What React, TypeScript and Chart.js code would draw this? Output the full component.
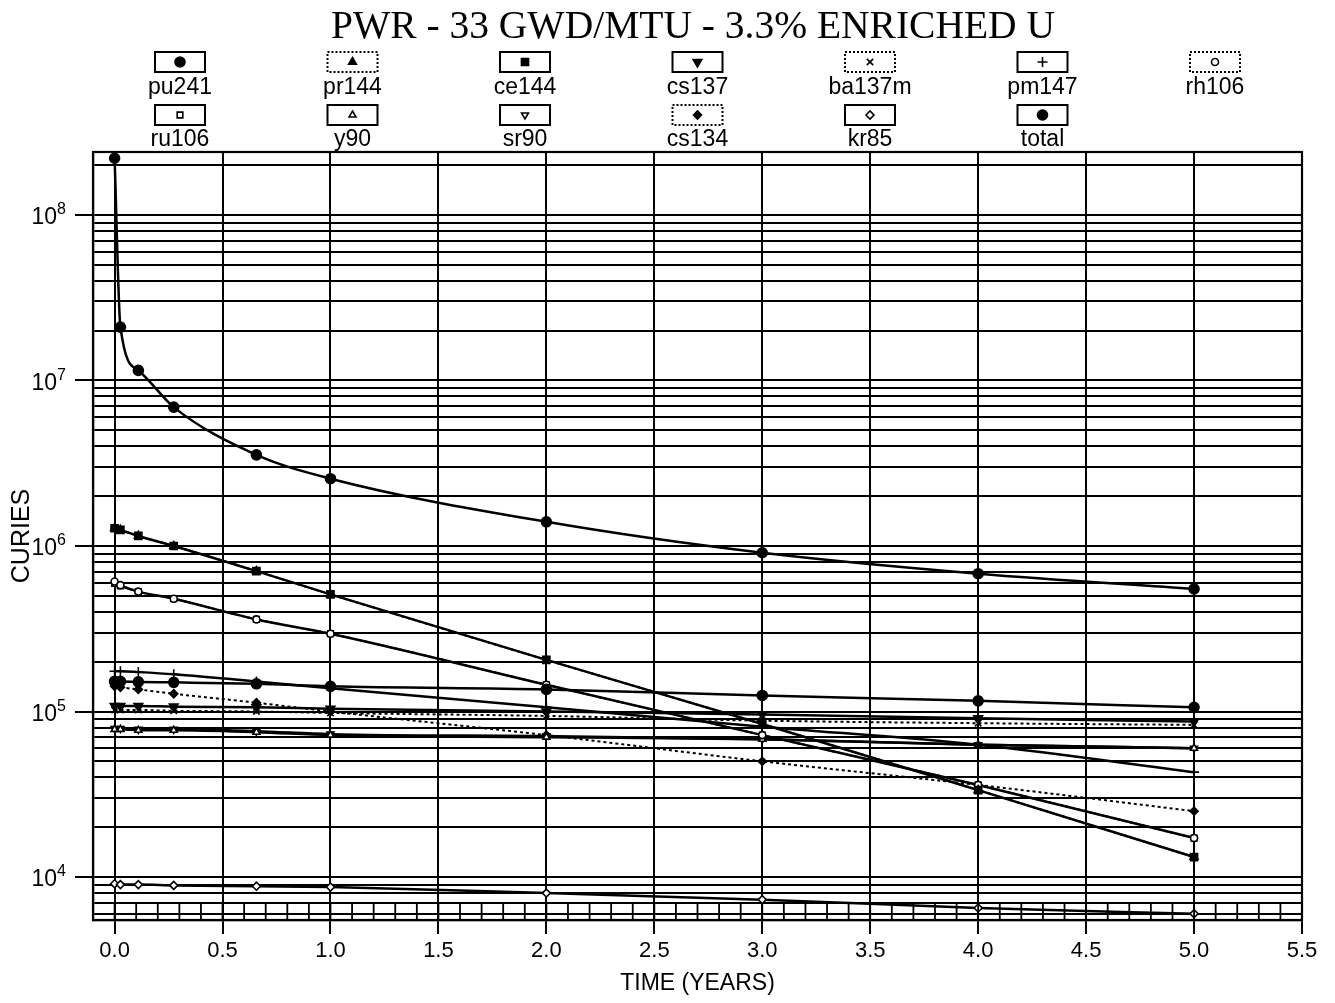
import React, { useEffect, useRef } from 'react';
import { Chart, registerables } from 'chart.js';
import { drawPoint } from 'chart.js/helpers';

Chart.register(...registerables);

const TITLE = 'PWR - 33 GWD/MTU - 3.3% ENRICHED U';
const X_TITLE = 'TIME (YEARS)';
const Y_TITLE = 'CURIES';

// time points (years)
const times = [0, 0.027, 0.11, 0.274, 0.657, 1, 2, 3, 4, 5];

// activities (curies)
const pu241 = [1.52e5, 1.52e5, 1.51e5, 1.5e5, 1.47e5, 1.42e5, 1.36e5, 1.25e5, 1.16e5, 1.06e5];
const pr144 = [1.28e6, 1.25e6, 1.15e6, 1.0e6, 7.05e5, 5.1e5, 2.05e5, 8.4e4, 3.35e4, 1.32e4];
const ce144 = [1.28e6, 1.25e6, 1.15e6, 1.0e6, 7.05e5, 5.1e5, 2.05e5, 8.4e4, 3.35e4, 1.32e4];
const cs137 = [1.08e5, 1.08e5, 1.08e5, 1.07e5, 1.06e5, 1.04e5, 1.0e5, 9.6e4, 9.1e4, 8.7e4];
const ba137m = [1.02e5, 1.02e5, 1.02e5, 1.01e5, 1.0e5, 9.8e4, 9.4e4, 8.8e4, 8.5e4, 8.3e4];
const pm147 = [1.75e5, 1.75e5, 1.73e5, 1.68e5, 1.52e5, 1.38e5, 1.06e5, 8.1e4, 6.3e4, 4.3e4];
const rh106 = [6.1e5, 5.8e5, 5.3e5, 4.8e5, 3.6e5, 2.95e5, 1.45e5, 7.2e4, 3.6e4, 1.72e4];
const ru106 = [5.95e5, 5.75e5, 5.3e5, 4.8e5, 3.6e5, 2.95e5, 1.45e5, 7.2e4, 3.6e4, 1.72e4];
const y90 = [7.8e4, 7.8e4, 7.7e4, 7.7e4, 7.5e4, 7.2e4, 7.0e4, 6.8e4, 6.3e4, 6.0e4];
const sr90 = [7.9e4, 7.9e4, 7.8e4, 7.8e4, 7.6e4, 7.3e4, 7.1e4, 6.8e4, 6.3e4, 6.0e4];
const cs134 = [1.42e5, 1.4e5, 1.36e5, 1.28e5, 1.13e5, 1.0e5, 7.2e4, 5.0e4, 3.6e4, 2.5e4];
const kr85 = [9.1e3, 9.0e3, 9.0e3, 8.9e3, 8.8e3, 8.7e3, 8.0e3, 7.3e3, 6.5e3, 6.0e3];
const total = [2.2e8, 2.1e7, 1.15e7, 6.9e6, 3.55e6, 2.55e6, 1.4e6, 9.1e5, 6.8e5, 5.5e5];

// axis ticks
const xTickValues = [0, 0.5, 1, 1.5, 2, 2.5, 3, 3.5, 4, 4.5, 5, 5.5];
const yDecades = [1e3, 1e4, 1e5, 1e6, 1e7, 1e8];
const yDecadeExponents = ['3', '4', '5', '6', '7', '8'];
const Y_MIN = 5.5e3;
const Y_MAX = 2.4e8;
const X_MIN = -0.1;
const X_MAX = 5.5;

type Series = {
  label: string;
  data: number[];
  style: string;
  filled: boolean;
  rotation: number;
  dotted: boolean;
  radius: number;
  row: number;
  col: number;
};

const series: Series[] = [
  { label: 'pu241', data: pu241, style: 'circle', filled: true, rotation: 0, dotted: false, radius: 5, row: 0, col: 0 },
  { label: 'pr144', data: pr144, style: 'triangle', filled: true, rotation: 0, dotted: true, radius: 4.5, row: 0, col: 1 },
  { label: 'ce144', data: ce144, style: 'rect', filled: true, rotation: 0, dotted: false, radius: 5, row: 0, col: 2 },
  { label: 'cs137', data: cs137, style: 'triangle', filled: true, rotation: 180, dotted: false, radius: 5, row: 0, col: 3 },
  { label: 'ba137m', data: ba137m, style: 'crossRot', filled: false, rotation: 0, dotted: true, radius: 4.5, row: 0, col: 4 },
  { label: 'pm147', data: pm147, style: 'cross', filled: false, rotation: 0, dotted: false, radius: 5, row: 0, col: 5 },
  { label: 'rh106', data: rh106, style: 'circle', filled: false, rotation: 0, dotted: true, radius: 3.5, row: 0, col: 6 },
  { label: 'ru106', data: ru106, style: 'rect', filled: false, rotation: 0, dotted: false, radius: 4, row: 1, col: 0 },
  { label: 'y90', data: y90, style: 'triangle', filled: false, rotation: 0, dotted: false, radius: 4, row: 1, col: 1 },
  { label: 'sr90', data: sr90, style: 'triangle', filled: false, rotation: 180, dotted: false, radius: 4, row: 1, col: 2 },
  { label: 'cs134', data: cs134, style: 'rectRot', filled: true, rotation: 0, dotted: true, radius: 4, row: 1, col: 3 },
  { label: 'kr85', data: kr85, style: 'rectRot', filled: false, rotation: 0, dotted: false, radius: 4, row: 1, col: 4 },
  { label: 'total', data: total, style: 'circle', filled: true, rotation: 0, dotted: false, radius: 5, row: 1, col: 5 },
];

const SANS = '"Liberation Sans", Arial, sans-serif';

const decorPlugin = {
  id: 'decor',
  afterDraw(chart: any) {
    const { ctx, chartArea, scales } = chart;
    const xs = scales.x;
    const ys = scales.y;
    ctx.save();
    ctx.strokeStyle = '#000';
    ctx.fillStyle = '#000';
    // frame
    ctx.lineWidth = 2.2;
    ctx.strokeRect(chartArea.left, chartArea.top, chartArea.right - chartArea.left, chartArea.bottom - chartArea.top);
    // inner minor x ticks every 0.1
    ctx.lineWidth = 1.8;
    for (let i = 0; i <= 55; i++) {
      const px = xs.getPixelForValue(i / 10);
      if (px < chartArea.left || px > chartArea.right) continue;
      ctx.beginPath();
      ctx.moveTo(px, chartArea.bottom);
      ctx.lineTo(px, chartArea.bottom - 17);
      ctx.stroke();
    }
    // y decade labels with superscript exponent
    const labelRight = 66;
    yDecades.forEach((d, i) => {
      if (d < Y_MIN || d > Y_MAX) return;
      const py = ys.getPixelForValue(d);
      ctx.font = `16px ${SANS}`;
      const exp = yDecadeExponents[i];
      const ew = ctx.measureText(exp).width;
      ctx.textAlign = 'left';
      ctx.textBaseline = 'middle';
      ctx.fillText(exp, labelRight - ew, py - 5);
      ctx.font = `23px ${SANS}`;
      ctx.textAlign = 'right';
      ctx.fillText('10', labelRight - ew, py + 3);
    });
    // title
    ctx.font = '39.5px "Liberation Serif", "Times New Roman", serif';
    ctx.textAlign = 'center';
    ctx.textBaseline = 'alphabetic';
    ctx.fillText(TITLE, 693, 38);
    // legend
    const colX0 = 180;
    const colDx = 172.5;
    const boxW = 50;
    const boxH = 20;
    const rowBoxY = [62, 115];
    const rowLabelY = [88, 140];
    ctx.font = `23px ${SANS}`;
    ctx.textBaseline = 'middle';
    series.forEach((s) => {
      const cx = colX0 + s.col * colDx;
      const by = rowBoxY[s.row];
      ctx.lineWidth = 2;
      ctx.setLineDash(s.dotted ? [2, 2] : []);
      ctx.strokeStyle = '#000';
      ctx.fillStyle = '#fff';
      ctx.fillRect(cx - boxW / 2, by - boxH / 2, boxW, boxH);
      ctx.strokeRect(cx - boxW / 2, by - boxH / 2, boxW, boxH);
      ctx.setLineDash([]);
      ctx.fillStyle = s.filled ? '#000' : '#fff';
      ctx.lineWidth = 1.6;
      drawPoint(ctx, { pointStyle: s.style as any, rotation: s.rotation, radius: s.radius, borderWidth: 1.6 }, cx, by);
      ctx.fillStyle = '#000';
      ctx.textAlign = 'center';
      ctx.fillText(s.label, cx, rowLabelY[s.row]);
    });
    ctx.restore();
  },
};

export default function App() {
  const canvasRef = useRef<HTMLCanvasElement | null>(null);

  useEffect(() => {
    const canvas = canvasRef.current;
    if (!canvas) return;
    const datasets = series.map((s) => ({
      label: s.label,
      data: times.map((t, i) => ({ x: t, y: s.data[i] })),
      borderColor: '#000',
      backgroundColor: '#000',
      borderWidth: s.dotted ? 2 : 2.5,
      borderDash: s.dotted ? [3, 3] : [],
      pointStyle: s.style,
      pointRotation: s.rotation,
      pointRadius: s.radius,
      pointBorderWidth: 1.6,
      pointBackgroundColor: s.filled ? '#000' : '#fff',
      pointBorderColor: '#000',
      cubicInterpolationMode: 'monotone' as const,
      fill: false,
    }));

    const chart = new Chart(canvas, {
      type: 'line',
      data: { datasets },
      options: {
        animation: false,
        responsive: false,
        devicePixelRatio: 1,
        layout: { padding: { top: 152, right: 33, left: 0, bottom: 0 } },
        plugins: {
          legend: { display: false },
          title: { display: false },
          tooltip: { enabled: false },
        },
        scales: {
          x: {
            type: 'linear',
            min: X_MIN,
            max: X_MAX,
            afterBuildTicks: (scale: any) => {
              scale.ticks = xTickValues.map((v) => ({ value: v }));
            },
            afterFit: (scale: any) => {
              scale.height = 83;
            },
            ticks: {
              autoSkip: false,
              maxRotation: 0,
              padding: 4,
              color: '#000',
              font: { family: SANS, size: 22 },
              callback: (v: any) => Number(v).toFixed(1),
            },
            grid: {
              color: '#000',
              lineWidth: 2,
              tickLength: 14,
              tickColor: '#000',
              tickWidth: 2,
            },
            border: { display: true, color: '#000', width: 2.2 },
            title: {
              display: true,
              text: X_TITLE,
              color: '#000',
              font: { family: SANS, size: 23 },
              padding: { top: 0, bottom: 6 },
            },
          },
          y: {
            type: 'logarithmic',
            min: Y_MIN,
            max: Y_MAX,
            afterBuildTicks: (scale: any) => {
              const ticks: { value: number }[] = [];
              yDecades.forEach((d) => {
                for (let k = 1; k <= 9; k++) {
                  const v = d * k;
                  if (v >= Y_MIN && v <= Y_MAX) ticks.push({ value: v });
                }
              });
              scale.ticks = ticks;
            },
            afterFit: (scale: any) => {
              scale.width = 93;
            },
            ticks: {
              autoSkip: false,
              padding: 13,
              color: '#000',
              font: { family: SANS, size: 22 },
              callback: () => '',
            },
            grid: {
              color: '#000',
              lineWidth: 2,
              tickLength: 18,
              tickWidth: 2,
              tickColor: (ctx: any) => {
                if (!ctx.tick) return 'rgba(0,0,0,0)';
                const l = Math.log10(ctx.tick.value);
                return Math.abs(l - Math.round(l)) < 1e-9 ? '#000' : 'rgba(0,0,0,0)';
              },
            },
            border: { display: true, color: '#000', width: 2.2 },
            title: {
              display: true,
              text: Y_TITLE,
              color: '#000',
              font: { family: SANS, size: 25 },
              padding: { top: 7, bottom: 0 },
            },
          },
        },
      },
      plugins: [decorPlugin],
    } as any);

    return () => {
      chart.destroy();
    };
  }, []);

  return (
    <div style={{ position: 'fixed', left: 0, top: 0, width: 1335, height: 1003, background: '#fff' }}>
      <canvas ref={canvasRef} width={1335} height={1003} style={{ width: 1335, height: 1003, display: 'block' }} />
    </div>
  );
}
